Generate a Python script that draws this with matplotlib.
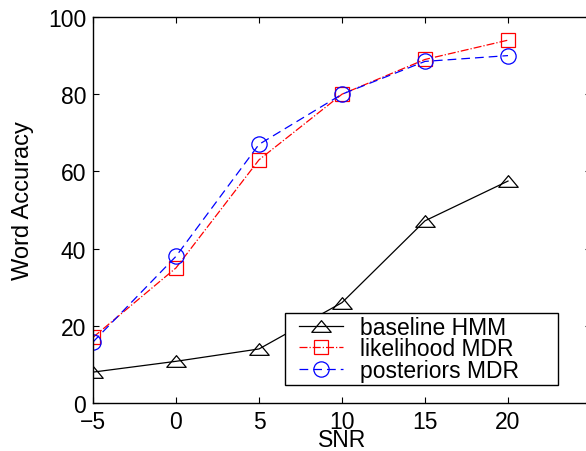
import matplotlib
matplotlib.use("Agg")
import matplotlib.pyplot as plt
from matplotlib.path import Path
from matplotlib.patches import Rectangle
import numpy as np

snr = [-5, 0, 5, 10, 15, 20]
baseline = [8.0, 10.8, 14.0, 26.0, 47.2, 57.5]
likelihood = [17.0, 35.0, 63.0, 80.0, 89.0, 94.0]
posteriors = [15.8, 38.0, 67.0, 80.0, 88.5, 90.0]
xticks = [-5, 0, 5, 10, 15, 20]
yticks = [0, 20, 40, 60, 80, 100]

FS = 16.5
plt.rcParams['font.family'] = ['Liberation Sans', 'DejaVu Sans']
fig = plt.figure(figsize=(5.86, 4.52), dpi=100)
AX_L, AX_R, AX_T, AX_B = 93, 591, 18, 404
ax = fig.add_axes([AX_L/586, 1-AX_B/452, (AX_R-AX_L)/586, (AX_B-AX_T)/452])

def axx(px):
    return (px - AX_L) / (AX_R - AX_L)

def axy(py):
    return (AX_B - py) / (AX_B - AX_T)

tri = Path([(-1, -0.6), (1, -0.6), (0, 0.6), (-1, -0.6)],
           [Path.MOVETO, Path.LINETO, Path.LINETO, Path.CLOSEPOLY])

ax.plot(snr, baseline, color='black', lw=0.9, marker=tri, ms=14,
        mfc='none', mec='black', mew=0.9, label='baseline HMM')
ax.plot(snr, likelihood, color='red', lw=0.9, ls='-.', marker='s', ms=9.5,
        mfc='none', mec='red', mew=0.9, label='likelihood MDR')
ax.plot(snr, posteriors, color='blue', lw=0.9, ls=(0, (7, 4)), marker='o', ms=11,
        mfc='none', mec='blue', mew=0.9, label='posteriors MDR')

ax.set_xlim(-5, 25)
ax.set_ylim(0, 100)
ax.set_xticks(xticks)
ax.set_yticks(yticks)
ax.tick_params(direction='in', length=4, width=0.8, labelsize=FS,
               top=True, right=True)
ax.tick_params(axis='x', pad=5)
ax.tick_params(axis='y', pad=5)
for s in ax.spines.values():
    s.set_linewidth(1.0)
ax.set_xlabel('SNR', fontsize=FS)
ax.xaxis.set_label_coords(0.5, axy(429))
ax.set_ylabel('Word Accuracy', fontsize=17,
              family=['Liberation Sans Narrow', 'Liberation Sans'])
ax.yaxis.set_label_coords(axx(34), axy(201))

# legend frame
ax.add_patch(Rectangle((axx(285), axy(386)), axx(558) - axx(285), axy(314) - axy(386),
                       transform=ax.transAxes, facecolor='white', edgecolor='black',
                       lw=1.0, zorder=4.5, clip_on=False))
leg = ax.legend(loc='center left', bbox_to_anchor=(axx(299), axy(350)),
                fontsize=FS, frameon=False, borderpad=0.0,
                handlelength=44/(FS*100/72), labelspacing=-0.05,
                handletextpad=17/(FS*100/72), borderaxespad=0)
leg.set_zorder(5)

fig.savefig('out.png', dpi=100)
